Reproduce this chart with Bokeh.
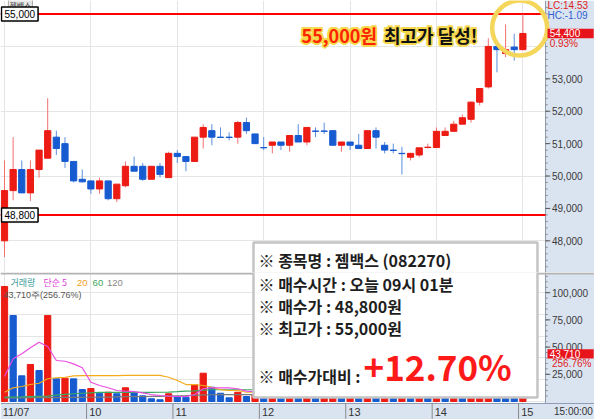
from bokeh.plotting import figure
from bokeh.models import Range1d, Span, Label, BoxAnnotation, ColumnDataSource
from bokeh.layouts import column
from bokeh.core.properties import value
from bokeh.embed import file_html
from bokeh.resources import INLINE

# ---------------- data ----------------
stock_name = "젬백스"
day_labels = ["11/07", "10", "11", "12", "13", "14", "15"]
day_starts = [0, 10, 20, 30, 40, 50, 60]
time_label = "15:00:00"

opens = [48000, 49550, 50200, 49480, 50200, 50550, 51200, 51000, 50450, 49900,
         49850, 49600, 49850, 49300, 49700, 50300, 50300, 49900, 50300, 49950,
         50700, 50600, 50450, 51200, 51400, 51200, 51200, 51200, 51650, 51300,
         50880, 50950, 51050, 50950, 51250, 51050, 51390, 51390, 51400, 50950,
         51050, 50950, 50850, 51400, 50950, 50800, 50700, 50580, 50650, 50880,
         50880, 51250, 51380, 51600, 51750, 52280, 52750, 54000, 53780, 53980,
         53900]
highs = [50480, 51200, 50480, 50480, 50800, 52400, 51400, 51200, 50450, 50200,
         49850, 49950, 49850, 49750, 50450, 50600, 50400, 50300, 50400, 50750,
         50800, 50600, 51200, 51600, 51600, 51500, 51350, 51700, 51800, 51300,
         51200, 51050, 51050, 51250, 51600, 51500, 51500, 51650, 51400, 51050,
         51050, 51300, 51400, 51500, 51050, 51000, 50900, 50700, 50870, 51000,
         51500, 51500, 51700, 51900, 52300, 52700, 54250, 54000, 54680, 54390,
         55000]
lows = [47500, 49250, 49480, 49230, 49950, 50550, 50650, 50250, 49800, 49800,
        49450, 49450, 49250, 49200, 49650, 50150, 49850, 49900, 49950, 49950,
        50400, 50150, 50450, 50850, 50950, 51180, 51100, 51000, 51300, 51000,
        50800, 50700, 50800, 50750, 51050, 50950, 51200, 51300, 50950, 50750,
        50800, 50850, 50850, 50850, 50700, 50700, 50050, 50480, 50580, 50850,
        50880, 51250, 51380, 51600, 51650, 52180, 52700, 53200, 53670, 53560,
        53900]
closes = [49550, 50200, 49480, 50200, 50800, 51400, 50850, 50450, 49850, 49820,
          49600, 49850, 49300, 49750, 50300, 50150, 49900, 50300, 50050, 50700,
          50600, 50450, 51200, 51500, 51200, 51190, 51190, 51650, 51400, 51000,
          50870, 51050, 50950, 51250, 51050, 51500, 51380, 51380, 50950, 51050,
          50950, 50850, 51400, 51200, 50800, 50790, 50690, 50700, 50870, 50890,
          51380, 51380, 51600, 51800, 52280, 52700, 54000, 53900, 53900, 53900,
          54400]
volumes = [105700, 79000, 23600, 34000, 28500, 79000, 20900, 21400, 20800, 11000,
           11900, 7600, 8500, 7100, 12600, 8300, 5200, 2500, 1600, 7100,
           4600, 4000, 15300, 26000, 13100, 7600, 3400, 8500, 4600, 6000,
           3500, 5200, 3000, 7800, 5500, 9000, 4200, 5000, 7000, 4000,
           4500, 3800, 9500, 6000, 8000, 5000, 12000, 7000, 8000, 4500,
           14000, 9000, 12000, 10000, 25000, 30000, 95000, 40000, 35000, 17020,
           43710]
ma5 = [23000, 39200, 43800, 49300, 54500, 50500, 37700, 37000, 34600, 31000,
       17700, 14700, 12600, 10100, 9500, 9000, 8000, 6400, 5500, 4900,
       4600, 4600, 6400, 11700, 12600, 12600, 12600, 11700, 9500, 8800]
ma20 = [8500, 12600, 13800, 15600, 16800, 20900, 21800, 22300, 23600, 23800,
        23800, 23800, 23800, 23800, 24000, 24000, 24000, 24000, 24000, 22300,
        19300, 15600, 15600, 14700, 13100, 10800, 10100, 10100, 8500, 8500]
ma60 = [4000, 4000, 4200, 4500, 4800, 5000, 5800, 6500, 7100, 7600,
        8000, 8300, 8300, 8300, 8300, 8300, 8400, 8400, 8500, 8600,
        9000, 9500, 9800, 10500, 10800, 10800, 10800, 10800, 10800, 10800]
ma120 = [3400, 3400, 3400, 3500, 3500, 3600, 3600, 3700, 3700, 3800,
         3900, 4000, 4100, 4300, 4400, 4500, 4600, 4700, 4800, 5000,
         5200, 5400, 5700, 6000, 6200, 6400, 6400, 6400, 6300, 6300]

price_ticks = [48000, 49000, 50000, 51000, 52000, 53000]
volume_ticks = [25000, 50000, 75000, 100000]
buy_price = 48800
high_price = 55000
last_price = 54400
last_price_text = "54,400"
change_text = "0.93%"
lc_text = "LC:14.53"
hc_text = "HC:-1.09"
last_volume = 43710
last_volume_text = "43,710"
volume_ratio_text = "256.76%"
legend_texts = ["거래량", "단순 5", "20", "60", "120"]
legend_colors = ["#3c9c9c", "#e040d8", "#f0a020", "#3aa860", "#888888"]
volume_info = "43,710주(256.76%)"
headline_price = "55,000원"
headline_text = "최고가 달성!"
info_lines = ["※ 종목명 : 젬백스 (082270)", "※ 매수시간 : 오늘 09시 01분",
              "※ 매수가 : 48,800원", "※ 최고가 : 55,000원", "※ 매수가대비 : "]
gain_text = "+12.70%"

# ---------------- style ----------------
RED = "#ec1b13"
BLUE = "#175bd1"
RED_W = "#f27070"
BLUE_W = "#5b8fe0"
PANEL = "#dae4f0"
AXLINE = "#8e9db3"
NARROW_S = "Liberation Sans Narrow, Liberation Sans, Arial, sans-serif"
NARROW = value(NARROW_S)
KR = value("Noto Sans CJK KR")

W = 594
H1, H2 = 272, 147
XR = (-0.463, 68.29)
AX_X = 62.62          # left edge of the right-hand scale panel (data x)
TICK_LEN = 0.55
MINOR_LEN = 0.25
LABEL_X = 63.37

idx = list(range(len(opens)))
up = [c >= o for o, c in zip(opens, closes)]
csrc = ColumnDataSource(dict(
    x=idx, high=highs, low=lows,
    top=[max(o, c) for o, c in zip(opens, closes)],
    bottom=[min(o, c) for o, c in zip(opens, closes)],
    color=[RED if u else BLUE for u in up],
    wick=[RED_W if u else BLUE_W for u in up]))

vcol = [RED] + [RED if volumes[i] >= volumes[i - 1] else BLUE for i in range(1, len(volumes))]
vsrc = ColumnDataSource(dict(x=idx, top=volumes, color=vcol))


def make_fig(h, yr):
    f = figure(width=W, height=h, output_backend="svg", toolbar_location=None,
               x_range=Range1d(*XR), y_range=Range1d(*yr), min_border=0,
               x_axis_location=None, y_axis_location=None)
    f.outline_line_color = None
    f.background_fill_color = "white"
    f.border_fill_color = "white"
    f.add_layout(BoxAnnotation(left=AX_X, fill_color=PANEL, fill_alpha=1.0,
                               line_alpha=0, level="underlay"))
    f.add_layout(Span(location=AX_X, dimension="height", line_color=AXLINE,
                      line_width=1, level="underlay"))
    return f


def txt(f, x, y, s, color, font=NARROW, size="10px", **kw):
    f.text(x=[x], y=[y], text=[s], text_font=font, text_font_size=size,
           text_color=color, text_baseline="middle", **kw)


def draw_scale(f, ticks, minor):
    f.segment(x0=[AX_X] * len(minor), x1=[AX_X + MINOR_LEN] * len(minor), y0=minor, y1=minor,
              line_color="#8a8a8a", line_width=1)
    f.segment(x0=[AX_X] * len(ticks), x1=[AX_X + TICK_LEN] * len(ticks), y0=ticks, y1=ticks,
              line_color="#555555", line_width=1)
    f.text(x=[LABEL_X] * len(ticks), y=ticks, text=[f"{t:,}" for t in ticks],
           text_font=NARROW, text_font_size="10px", text_color="#3a3a3a",
           text_baseline="middle")


# ---------------- price panel ----------------
p1 = make_fig(H1, (47023, 55417))
draw_scale(p1, price_ticks, list(range(47200, 55400, 200)))

p1.segment(x0=[XR[0]] * 2, x1=[AX_X] * 2, y0=[high_price, buy_price], y1=[high_price, buy_price],
           line_color="#ff0000", line_width=2)

p1.segment(x0="x", y0="high", x1="x", y1="low", line_color="wick", line_width=1, source=csrc)
p1.vbar(x="x", width=0.72, top="top", bottom="bottom", fill_color="color",
        line_color="color", line_width=1, source=csrc)

# highlight circle
p1.circle(x=[59.63], y=[54568], radius=27.5, radius_units="screen",
          fill_color=None, line_color="#f4d65a", line_width=4.5)

# headline with yellow halo
halo = [(-2, 0), (2, 0), (0, -2), (0, 2), (-1.5, -1.5), (1.5, 1.5), (-1.5, 1.5), (1.5, -1.5)]
HL_Y = 54367
for dx, dy in halo:
    txt(p1, 34.38, HL_Y, headline_price, "#f6d84c", KR, "18px", text_font_style="bold",
        text_align="left", x_offset=dx, y_offset=dy)
    txt(p1, 54.75, HL_Y, headline_text, "#f6d84c", KR, "18px", text_font_style="bold",
        text_align="right", x_offset=dx, y_offset=dy)
txt(p1, 34.38, HL_Y, headline_price, "#ff2400", KR, "18px", text_font_style="bold",
    text_align="left")
txt(p1, 54.75, HL_Y, headline_text, "#111111", KR, "18px", text_font_style="bold",
    text_align="right")

# price boxes on the left
p1.add_layout(Label(x=0.45, y=55270, text=stock_name, text_font="Noto Sans CJK KR",
                    text_font_size="8px", text_color="#444444", text_baseline="middle",
                    background_fill_color="#e6e6e6", border_line_color="#aaaaaa", padding=1))
for loc in [high_price, buy_price]:
    p1.add_layout(Label(x=-0.35, y=loc, text=f"{loc:,}", text_font=NARROW_S,
                        text_font_size="10px", text_color="black", text_baseline="middle",
                        background_fill_color="white", border_line_color="black",
                        border_line_width=1.5, padding=3))

# info box top part
p1.quad(left=[28.82], right=[61.69], top=[47949], bottom=[46000],
        fill_color="white", line_color="#c4c4c4", line_width=2.5)
txt(p1, 29.4, 47420, info_lines[0], "#1e1e1e", KR, "16px", text_font_style="bold")

# right-side price labels
p1.quad(left=[62.85], right=[68.2], top=[last_price + 145], bottom=[last_price - 145],
        fill_color="#e8141c", line_color=None)
txt(p1, 63.1, last_price, last_price_text, "white")
txt(p1, 62.85, 55262, lc_text, "#e02020")
txt(p1, 62.85, 54954, hc_text, "#2f5fd0")
txt(p1, 63.1, 54105, change_text, "#e02020")

# ---------------- volume panel ----------------
p2 = make_fig(H2, (-16542, 118551))
# bottom date strip
p2.add_layout(BoxAnnotation(top=-1838, fill_color=PANEL, fill_alpha=1.0, line_alpha=0,
                            level="underlay"))
p2.add_layout(Span(location=-1838, dimension="width", line_color=AXLINE, line_width=1,
                   level="underlay"))
p2.add_layout(Span(location=117632, dimension="width", line_color="#b4b4b4",
                   line_width=2, level="underlay"))
seps = [s - 0.5 for s in day_starts[1:]]
p2.segment(x0=seps, x1=seps, y0=[-1838] * len(seps), y1=[-16542] * len(seps),
           line_color="#8a8a8a", line_width=1)
p2.text(x=[s - 0.2 for s in day_starts], y=[-9190] * len(day_starts), text=day_labels,
        text_font=NARROW, text_font_size="11px", text_color="#333333", text_baseline="middle")
txt(p2, 63.6, -9190, time_label, "#333333")

draw_scale(p2, volume_ticks, list(range(5000, 120000, 5000)))

p2.vbar(x="x", width=0.72, top="top", bottom=0, fill_color="color",
        line_color="color", source=vsrc)
mx = idx[:len(ma5)]
p2.line(mx, ma120, line_color="#7a7a7a", line_width=1.2)
p2.line(mx, ma60, line_color="#3aa860", line_width=1.2)
p2.line(mx, ma20, line_color="#f4ac1c", line_width=1.2)
p2.line(mx, ma5, line_color="#e84de0", line_width=1.2)

# legend
leg_x = [0.69, 4.51, 8.4, 10.2, 11.85]
for i, (s, c) in enumerate(zip(legend_texts, legend_colors)):
    if i < 2:
        txt(p2, leg_x[i], 109361, s, c, KR, "9px")
    else:
        txt(p2, leg_x[i], 109361, s, c, size="9.5px")
txt(p2, -0.116, 98333, volume_info, "#555555", size="9px")

# info box bottom part
p2.quad(left=[28.82], right=[61.69], top=[200000], bottom=[3676],
        fill_color="white", line_color="#c4c4c4", line_width=2.5)
p2.text(x=[29.4] * 4, y=[108166, 88224, 67730, 23435], text=info_lines[1:],
        text_font=KR, text_font_style="bold", text_font_size="16px",
        text_color="#1e1e1e", text_baseline="middle")
txt(p2, 41.55, 33084, gain_text, "#ff1a1a", KR, "35px", text_font_style="bold")

# right-side volume labels
p2.quad(left=[62.85], right=[68.2], top=[last_volume + 4300], bottom=[last_volume - 4300],
        fill_color="#e8141c", line_color=None)
txt(p2, 63.1, last_volume, last_volume_text, "white")
txt(p2, 63.37, 35380, volume_ratio_text, "#e02020")

layout = column(p1, p2, spacing=0)
open("out.html", "w").write(file_html(layout, INLINE))
